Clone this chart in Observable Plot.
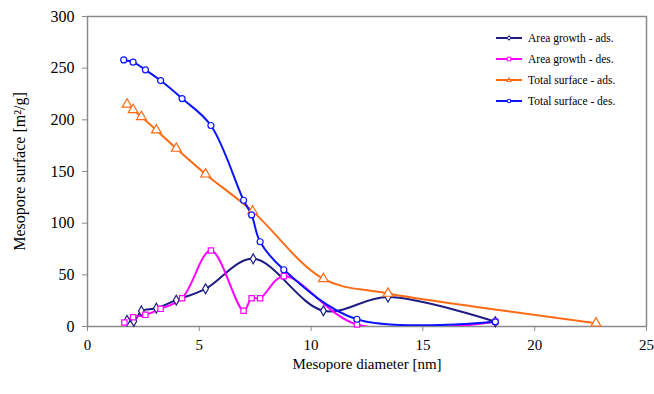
<!DOCTYPE html>
<html><head><meta charset="utf-8">
<script src="https://cdn.jsdelivr.net/npm/d3@7"></script>
<script src="https://cdn.jsdelivr.net/npm/@observablehq/plot@0.6"></script>
<style>
body{margin:0;background:#fff;}
#wrap{position:relative;width:654px;height:394px;font-family:"Liberation Serif","Tinos","Times New Roman","Times","DejaVu Serif","Noto Serif","FreeSerif",serif;}
#chart svg, #chart svg text{font-family:"Liberation Serif","Tinos","Times New Roman","Times","DejaVu Serif","Noto Serif","FreeSerif",serif !important;}
#legend{position:absolute;left:496px;top:27px;font-size:11.5px;color:#000;}
#legend .row{display:flex;align-items:center;height:21px;}
#legend svg{margin-right:6px;}
</style></head>
<body><div id="wrap"><div id="chart"></div><div id="legend"></div></div>
<script>
const seriesNames = ["Area growth - ads.","Area growth - des.","Total surface - ads.","Total surface - des."];
const seriesColors = ["#1c1c84","#ff00ff","#ff6a14","#0a14ff"];
const seriesSymbols = ["diamond","square","triangle","circle"];

const areaAdsX = [1.77,2.07,2.41,3.08,3.97,5.28,7.41,10.55,13.44,18.24];
const areaAdsY = [5.8,5.1,15.0,17.7,25.5,36.5,65.5,15.2,28.5,4.6];
const areaDesX = [1.65,2.04,2.59,3.27,4.23,5.52,6.98,7.34,7.72,8.78,12.05,18.24];
const areaDesY = [3.9,9.0,11.3,17.1,27.4,73.5,15.2,27.4,27.4,48.7,1.9,4.5];
const totalAdsX = [1.77,2.04,2.41,3.08,3.97,5.28,7.38,10.55,13.44,22.74];
const totalAdsY = [215,209.7,203,190,172.3,147.4,111.6,46.1,32,3.2];
const totalDesX = [1.62,2.04,2.59,3.27,4.23,5.52,6.98,7.34,7.72,8.78,12.05,18.24];
const totalDesY = [258,255.8,248.4,238,220.6,194.5,122.2,108,82,54.9,7,4.5];

const xTicks = [0,5,10,15,20,25];
const yTicks = [0,50,100,150,200,250,300];

const xs = [areaAdsX, areaDesX, totalAdsX, totalDesX];
const ys = [areaAdsY, areaDesY, totalAdsY, totalDesY];
const data = seriesNames.map((name,i)=> xs[i].map((x,j)=>({series:name,x,y:ys[i][j]})));

const marks = [];
data.forEach((d,i)=>{
  marks.push(Plot.line(d,{x:"x",y:"y",stroke:seriesColors[i],strokeWidth:2,curve:"catmull-rom",clip:true}));
});
data.forEach((d,i)=>{
  marks.push(Plot.dot(d,{x:"x",y:"y",stroke:seriesColors[i],fill:"white",symbol:seriesSymbols[i],r:seriesSymbols[i]==="triangle"?3.6:3,strokeWidth:1.2}));
});

const chart = Plot.plot({
  width:654, height:394,
  marginLeft:87, marginRight:8, marginTop:16, marginBottom:68,
  style:{fontFamily:"'Liberation Serif','Times New Roman',serif",fontSize:"15px",color:"#000",background:"#fff"},
  x:{domain:[0,25]},
  y:{domain:[0,300]},
  marks:[
    Plot.frame({stroke:"#8a8a8a",strokeWidth:1.5}),
    Plot.axisX({ticks:xTicks,tickSize:5,tickPadding:8,stroke:"#8a8a8a",label:"Mesopore diameter [nm]",labelAnchor:"center",labelArrow:"none",labelOffset:42,fontSize:15}),
    Plot.axisY({ticks:yTicks,tickSize:5,tickPadding:8,stroke:"#8a8a8a",label:"Mesopore surface [m²/g]",labelAnchor:"center",labelArrow:"none",labelOffset:74,fontSize:16}),
    ...marks
  ]
});
document.getElementById("chart").appendChild(chart);

const legend = document.getElementById("legend");
const symPaths = {
  diamond:"M0,-3L3,0L0,3L-3,0Z",
  square:"M-2.5,-2.5H2.5V2.5H-2.5Z",
  triangle:"M0,-3L2.8,2L-2.8,2Z",
  circle:"M2.5,0A2.5,2.5 0 1 1 -2.5,0A2.5,2.5 0 1 1 2.5,0"
};
seriesNames.forEach((name,i)=>{
  const row=document.createElement("div");row.className="row";
  row.innerHTML=`<svg width="26" height="10"><line x1="0" y1="5" x2="26" y2="5" stroke="${seriesColors[i]}" stroke-width="2"/><path transform="translate(13,5) scale(0.7)" d="${symPaths[seriesSymbols[i]]}" fill="white" stroke="${seriesColors[i]}" stroke-width="1.5"/></svg><span>${name}</span>`;
  legend.appendChild(row);
});
</script></body></html>
